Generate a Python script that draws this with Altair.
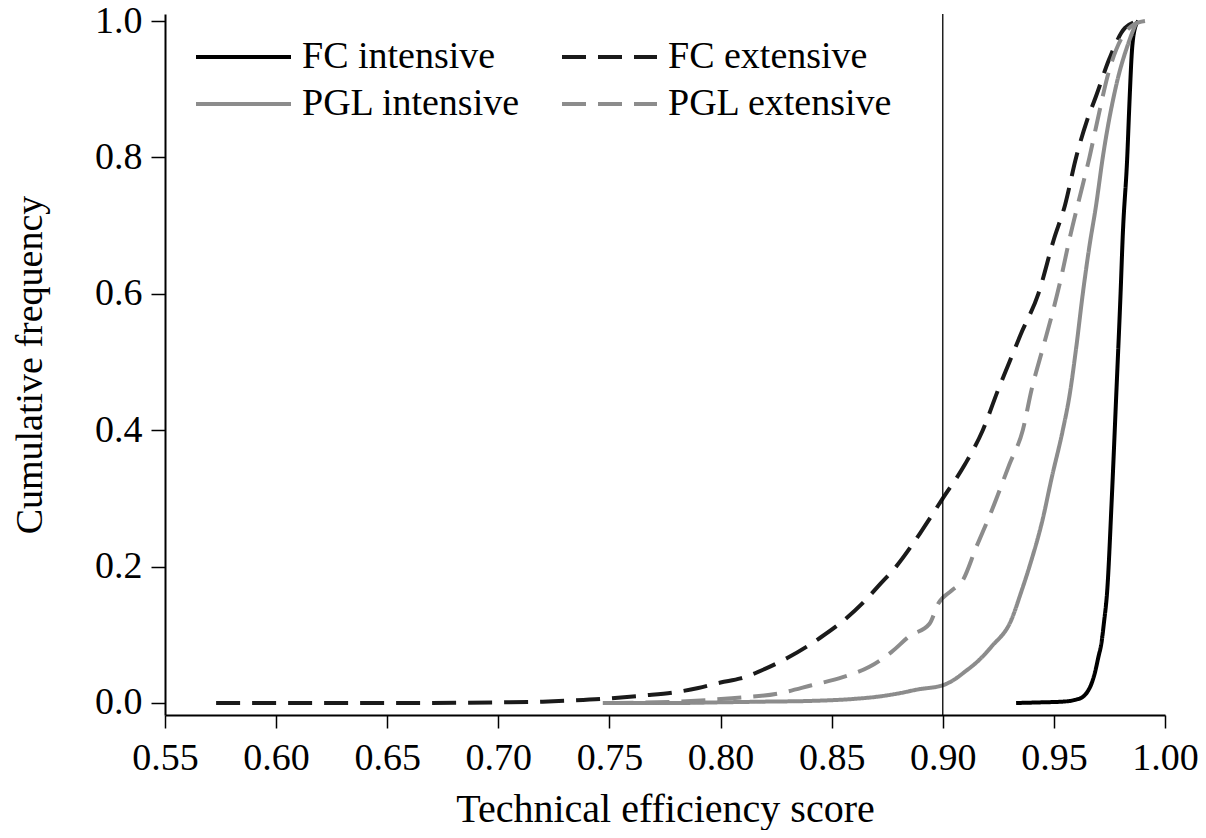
import altair as alt
import pandas as pd

series_names = ["FC intensive", "FC extensive", "PGL intensive", "PGL extensive"]

fc_int_x = [0.933, 0.945, 0.954, 0.960, 0.963, 0.965, 0.967, 0.9685, 0.970, 0.9715, 0.9725, 0.974, 0.976, 0.978, 0.980, 0.981, 0.983, 0.984, 0.985, 0.9865, 0.988]
fc_int_y = [0.0, 0.001, 0.002, 0.005, 0.009, 0.016, 0.029, 0.045, 0.067, 0.09, 0.117, 0.165, 0.296, 0.447, 0.60, 0.686, 0.80, 0.88, 0.95, 0.99, 1.0]

fc_ext_x = [0.573, 0.60, 0.65, 0.70, 0.72, 0.732, 0.747, 0.765, 0.780, 0.790, 0.800, 0.809, 0.82, 0.83, 0.845, 0.855, 0.865, 0.872, 0.879, 0.890, 0.900, 0.910, 0.918, 0.925, 0.930, 0.935, 0.943, 0.950, 0.955, 0.960, 0.965, 0.969, 0.975, 0.982, 0.988]
fc_ext_y = [0.0, 0.0, 0.0, 0.001, 0.002, 0.0035, 0.006, 0.011, 0.016, 0.022, 0.03, 0.036, 0.05, 0.066, 0.096, 0.12, 0.15, 0.175, 0.20, 0.25, 0.30, 0.35, 0.40, 0.46, 0.50, 0.54, 0.60, 0.68, 0.73, 0.80, 0.855, 0.89, 0.945, 0.99, 1.0]

pgl_int_x = [0.747, 0.78, 0.80, 0.82, 0.84, 0.86, 0.870, 0.880, 0.889, 0.900, 0.905, 0.910, 0.916, 0.922, 0.931, 0.935, 0.939, 0.945, 0.949, 0.954, 0.957, 0.960, 0.963, 0.966, 0.969, 0.972, 0.978, 0.984, 0.987]
pgl_int_y = [0.0, 0.0, 0.001, 0.002, 0.003, 0.006, 0.009, 0.014, 0.02, 0.026, 0.034, 0.046, 0.062, 0.083, 0.123, 0.16, 0.20, 0.27, 0.33, 0.40, 0.45, 0.52, 0.60, 0.67, 0.73, 0.80, 0.905, 0.972, 0.997]

pgl_ext_x = [0.75, 0.78, 0.805, 0.826, 0.841, 0.855, 0.867, 0.877, 0.885, 0.894, 0.898, 0.904, 0.909, 0.915, 0.922, 0.930, 0.936, 0.940, 0.945, 0.950, 0.953, 0.957, 0.963, 0.966, 0.969, 0.975, 0.981, 0.986, 0.991]
pgl_ext_y = [0.0, 0.002, 0.007, 0.014, 0.026, 0.038, 0.053, 0.075, 0.098, 0.116, 0.146, 0.165, 0.18, 0.228, 0.282, 0.35, 0.40, 0.46, 0.52, 0.58, 0.62, 0.68, 0.76, 0.80, 0.845, 0.929, 0.978, 0.995, 1.0]

x_ticks = [0.55, 0.60, 0.65, 0.70, 0.75, 0.80, 0.85, 0.90, 0.95, 1.00]
y_ticks = [0.0, 0.2, 0.4, 0.6, 0.8, 1.0]
threshold = [0.90]

rows = []
for name, xs, ys in [
    ("FC intensive", fc_int_x, fc_int_y),
    ("FC extensive", fc_ext_x, fc_ext_y),
    ("PGL intensive", pgl_int_x, pgl_int_y),
    ("PGL extensive", pgl_ext_x, pgl_ext_y),
]:
    for xv, yv in zip(xs, ys):
        rows.append({"series": name, "score": xv, "freq": yv})
df = pd.DataFrame(rows)

FONT = "Liberation Serif"

x_scale = alt.Scale(domain=[0.55, 1.00], nice=False, zero=False)
y_scale = alt.Scale(domain=[-0.0176, 1.0103], nice=False, zero=False)

lines = alt.Chart(df).mark_line(strokeWidth=4, interpolate="monotone").encode(
    x=alt.X("score:Q", scale=x_scale,
            axis=alt.Axis(values=x_ticks, format=".2f", title="Technical efficiency score",
                          tickSize=13, labelPadding=11, labelFlush=False,
                          titleBaseline="alphabetic", titleY=106)),
    y=alt.Y("freq:Q", scale=y_scale,
            axis=alt.Axis(values=y_ticks, format=".1f", title="Cumulative frequency",
                          tickSize=14, labelPadding=9, labelFlush=False,
                          titleBaseline="alphabetic", titleX=-124)),
    color=alt.Color("series:N", title=None,
                    scale=alt.Scale(domain=series_names,
                                    range=["#000000", "#1a1a1a", "#8c8c8c", "#8c8c8c"]),
                    sort=series_names),
    strokeDash=alt.StrokeDash("series:N", title=None,
                              scale=alt.Scale(domain=series_names,
                                              range=[[1, 0], [24, 12], [1, 0], [24, 12]]),
                              sort=series_names),
    detail="series:N",
)

rule = alt.Chart(pd.DataFrame({"t": threshold})).mark_rule(color="black", strokeWidth=1.3).encode(
    x=alt.X("t:Q", scale=x_scale)
)

chart = alt.layer(lines, rule).properties(
    width=1000,
    height=701,
    autosize=alt.AutoSizeParams(type="none"),
    padding={"left": 157, "top": 6, "right": 33, "bottom": 115},
).configure_view(stroke=None).configure_axis(
    grid=False,
    domainColor="black",
    domainWidth=2,
    tickColor="black",
    tickWidth=1.5,
    labelFont=FONT,
    labelFontSize=38,
    labelColor="black",
    titleFont=FONT,
    titleFontSize=40,
    titleFontWeight="normal",
    titleColor="black",
).configure_axisY(titleFontSize=38).configure_legend(
    orient="none",
    legendX=29,
    legendY=23,
    columns=2,
    direction="horizontal",
    symbolType="stroke",
    symbolSize=9025,
    symbolStrokeWidth=4,
    clipHeight=40,
    rowPadding=7,
    columnPadding=39,
    labelOffset=9,
    labelFont=FONT,
    labelFontSize=38,
    labelColor="black",
    labelLimit=400,
    padding=0,
)

chart.save("out.html", embed_options={"renderer": "svg", "actions": False})
